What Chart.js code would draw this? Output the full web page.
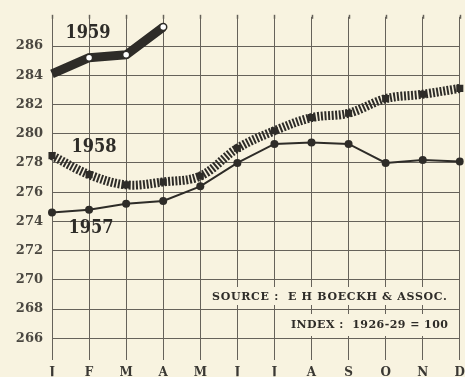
<!DOCTYPE html>
<html>
<head>
<meta charset="utf-8">
<script src="https://cdn.jsdelivr.net/npm/chart.js@4.4.1/dist/chart.umd.min.js"></script>
<style>
  html, body { margin: 0; padding: 0; background: #f8f3e0; overflow: hidden; }
  canvas { display: block; }
</style>
</head>
<body>
<canvas id="myChart" width="470" height="377" style="width:470px;height:377px"></canvas>
<script>
const months = ['J', 'F', 'M', 'A', 'M', 'J', 'J', 'A', 'S', 'O', 'N', 'D'];
const y1957 = [274.6, 274.8, 275.2, 275.4, 276.4, 278.0, 279.3, 279.4, 279.3, 278.0, 278.2, 278.1];
const y1958 = [278.5, 277.2, 276.5, 276.7, 277.1, 279.0, 280.2, 281.1, 281.4, 282.4, 282.7, 283.1];
const y1959 = [284.1, 285.2, 285.4, 287.3, null, null, null, null, null, null, null, null];
const yTicks = [266, 268, 270, 272, 274, 276, 278, 280, 282, 284, 286];

const ink = '#2e2c28';
const paper = '#f8f3e0';
const gridColor = '#66625a';
const serif = '"DejaVu Serif", "Liberation Serif", serif';
const serifCond = '"DejaVu Serif Condensed", "DejaVu Serif", serif';

// year names, source note, paper background
const annotations = {
    id: 'annotations',
    beforeDraw(chart) {
        const ctx = chart.ctx;
        ctx.save();
        ctx.fillStyle = paper;
        ctx.fillRect(0, 0, chart.width, chart.height);
        ctx.restore();
    },
    beforeDatasetsDraw(chart) {
        const ctx = chart.ctx;
        const area = chart.chartArea;
        ctx.save();
        // little stubs where the month lines run past the top edge
        ctx.strokeStyle = gridColor;
        ctx.lineWidth = 1.5;
        chart.scales.x.ticks.forEach((t, i) => {
            const x = Math.round(chart.scales.x.getPixelForTick(i)) + 0.5;
            ctx.beginPath();
            ctx.moveTo(x, area.top - 2);
            ctx.lineTo(x, area.top + 2);
            ctx.stroke();
        });
        // note boxes blank out the grid behind the text
        ctx.fillStyle = paper;
        ctx.fillRect(208, 287, 246, 18);
        ctx.fillRect(286, 314, 168, 22);
        ctx.fillStyle = ink;
        ctx.textBaseline = 'middle';
        ctx.textAlign = 'left';
        ctx.font = 'bold 11px ' + serif;
        ctx.letterSpacing = '0.7px';
        ctx.fillText('SOURCE :  E H BOECKH & ASSOC.', 212, 297);
        ctx.letterSpacing = '0.45px';
        ctx.fillText('INDEX :  1926-29 = 100', 291, 325);
        ctx.letterSpacing = '0px';
        ctx.font = 'bold 18px ' + serifCond;
        ctx.textAlign = 'center';
        ctx.fillText('1959', 88, 33);
        ctx.fillText('1958', 94, 147);
        ctx.fillText('1957', 91, 228);
        ctx.restore();
    }
};

const data = {
    labels: months,
    datasets: [
        {
            label: '1957',
            data: y1957,
            order: 0,
            borderColor: ink,
            borderWidth: 2,
            backgroundColor: ink,
            pointRadius: 4,
            pointBackgroundColor: ink,
            pointBorderWidth: 0,
            tension: 0
        },
        {
            label: '1958',
            data: y1958,
            order: 1,
            borderColor: ink,
            borderWidth: 9,
            borderDash: [2, 1.6],
            borderCapStyle: 'butt',
            pointStyle: 'rect',
            pointRadius: 5,
            pointBackgroundColor: ink,
            pointBorderWidth: 0,
            tension: 0.35
        },
        {
            label: '1959',
            data: y1959,
            order: 2,
            borderColor: ink,
            borderWidth: 9,
            borderJoinStyle: 'round',
            pointRadius: [0, 3.5, 3.5, 3.5],
            pointBackgroundColor: '#ffffff',
            pointBorderColor: ink,
            pointBorderWidth: 1.5,
            tension: 0,
            spanGaps: false
        }
    ]
};

const config = {
    type: 'line',
    data: data,
    options: {
        responsive: false,
        animation: false,
        devicePixelRatio: 1,
        layout: { padding: { top: 13, right: 3, left: 0, bottom: 0 } },
        plugins: {
            legend: { display: false },
            tooltip: { enabled: false }
        },
        scales: {
            x: {
                offset: false,
                border: { display: false },
                grid: { color: gridColor, lineWidth: 1, drawTicks: false },
                ticks: {
                    color: '#3a3833',
                    padding: 5,
                    maxRotation: 0,
                    autoSkip: false,
                    font: { family: serif, weight: 'bold', size: 12 }
                },
                afterFit(axis) { axis.height = 16; }
            },
            y: {
                min: 264.5,
                max: 288,
                border: { display: false },
                grid: { color: gridColor, lineWidth: 1, drawTicks: false },
                afterBuildTicks(axis) {
                    axis.ticks = yTicks.map(v => ({ value: v }));
                },
                ticks: {
                    color: '#4a4740',
                    padding: 9,
                    font: { family: serif, weight: 'bold', size: 13 }
                },
                afterFit(axis) { axis.width = 52; }
            }
        }
    },
    plugins: [annotations]
};

const myChart = new Chart(document.getElementById('myChart'), config);
</script>
</body>
</html>
